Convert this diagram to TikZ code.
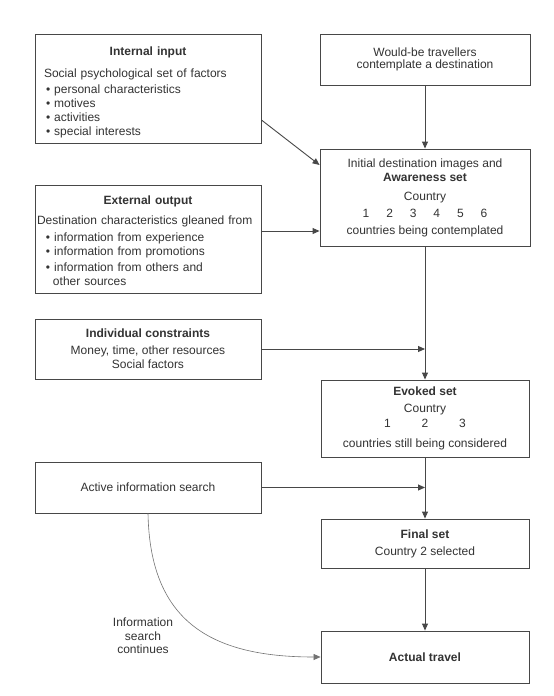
\documentclass[tikz,border=0pt]{standalone}
\usepackage{fontspec}
\setmainfont{Liberation Sans}
\usetikzlibrary{arrows.meta}
\begin{document}
\begin{tikzpicture}[x=1pt,y=-1pt,
  box/.style={draw=black!72, line width=0.9pt, rectangle, inner sep=0pt, text=black!80, align=center, font=\fontsize{12}{14}\selectfont},
  lbox/.style={box, align=left},
  conn/.style={draw=black!72, line width=0.9pt, -{Triangle[length=7pt,width=6pt]}},
  curv/.style={draw=black!55, line width=0.6pt, -{Triangle[length=7pt,width=6pt]}},
  note/.style={text=black!80, align=center, font=\fontsize{12}{13.5}\selectfont, inner sep=0pt}
]
\useasboundingbox[fill=white] (0,0) rectangle (554,696);

% left column
\node[lbox, text width=208pt, inner xsep=9pt, minimum height=109pt] (in) at (148,88.5)
 {\rule{0pt}{16pt}\makebox[\linewidth]{\textbf{Internal input}}\\[8pt]
  Social psychological set of factors\\[2pt]
  \hspace*{2pt}•~personal characteristics\\
  \hspace*{2pt}•~motives\\
  \hspace*{2pt}•~activities\\
  \hspace*{2pt}•~special interests};

\node[lbox, text width=222pt, inner xsep=2pt, minimum height=108pt] (ex) at (148,239)
 {\rule{0pt}{12pt}\makebox[\linewidth]{\textbf{External output}}\\[6pt]
  Destination characteristics gleaned from\\[3pt]
  \hspace*{9pt}•~information from experience\\
  \hspace*{9pt}•~information from promotions\\[2pt]
  \hspace*{9pt}•~information from others and\\
  \hspace*{16pt}other sources};

\node[box, minimum width=226pt, minimum height=60pt] (ic) at (148,349)
 {\textbf{Individual constraints}\\[3pt]Money, time, other resources\\Social factors};

\node[box, minimum width=226pt, minimum height=51pt] (ai) at (148,487.5)
 {Active information search};

% right column
\node[box, minimum width=210pt, minimum height=51pt, font=\fontsize{12}{12.5}\selectfont] (wb) at (425,59.5)
 {Would-be travellers\\contemplate a destination};

\node[box, minimum width=210pt, minimum height=97pt] (aw) at (425,197.5)
 {Initial destination images and\\\textbf{Awareness set}\\[5pt]Country\\[3pt]%
  \makebox[23.6pt]{1}\makebox[23.6pt]{2}\makebox[23.6pt]{3}\makebox[23.6pt]{4}\makebox[23.6pt]{5}\makebox[23.6pt]{6}\\[3pt]%
  countries being contemplated};

\node[box, minimum width=208pt, minimum height=77pt] (ev) at (425,418.5)
 {\textbf{Evoked set}\\[3pt]Country\\[1pt]%
  \makebox[37.5pt]{1}\makebox[37.5pt]{2}\makebox[37.5pt]{3}\\[6pt]%
  countries still being considered};

\node[box, minimum width=208pt, minimum height=49pt] (fs) at (425,543.5)
 {\textbf{Final set}\\[3pt]Country 2 selected};

\node[box, minimum width=208pt, minimum height=52pt] (at) at (425,657)
 {\textbf{Actual travel}};

% connectors
\draw[conn] (wb.south) -- (aw.north);
\draw[conn] ([yshift=-31.5pt]in.east) -- ([yshift=32.5pt]aw.west);
\coordinate (exo) at ([yshift=8pt]ex.east);
\draw[conn] (exo) -- (exo -| aw.west);
\draw[conn] (aw.south) -- (ev.north);
\draw[conn] (ic.east) -- (ic.east -| aw.south);
\draw[conn] (ev.south) -- (fs.north);
\draw[conn] (ai.east) -- (ai.east -| ev.south);
\draw[conn] (fs.south) -- (at.north);
\draw[curv] (ai.south) .. controls +(2,107) and +(-111,0) .. (at.west);

\node[note] (isc) at (143,636) {Information\\search\\continues};
\end{tikzpicture}
\end{document}
